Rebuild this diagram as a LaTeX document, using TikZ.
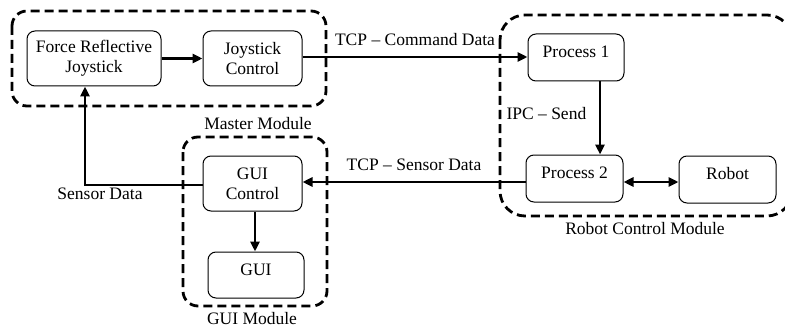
\documentclass[tikz,border=0pt]{standalone}
\usepackage{fontspec}
\setmainfont{Liberation Serif}
\usetikzlibrary{arrows.meta}
\usetikzlibrary{positioning}

\begin{document}
\begin{tikzpicture}[x=1pt, y=-1pt,
  every node/.style={font=\fontsize{17.5}{20}\selectfont},
  block/.style={draw, line width=1pt, rounded corners=8pt, align=center, inner sep=0pt},
  oneline/.style={block, text height=14pt, text depth=14pt},
  module/.style={line width=2.8pt, dash pattern=on 9pt off 5pt},
  link/.style={line width=2.8pt, -{Triangle[length=10pt, width=9pt]}},
  duallink/.style={line width=2.8pt, {Triangle[length=10pt, width=9pt]}-{Triangle[length=10pt, width=9pt]}}]
  \useasboundingbox (0,0) rectangle (785,329);
  \clip (0,0) rectangle (785,329);

  \draw[module, rounded corners=15pt] (12,11) rectangle (326,106);
  \draw[module, rounded corners=15pt] (183,137) rectangle (327,306);
  \draw[module, rounded corners=25pt] (500,15) rectangle (792,216);

  \node[block, minimum width=134pt, minimum height=55pt] (frj) at (94,58.5) {Force Reflective\\Joystick};
  \node[block, minimum width=99pt, minimum height=55pt] (jc) at (252.5,58.5) {Joystick\\Control};
  \node[oneline, minimum width=96pt, minimum height=47pt] (p1) at (576,57.5) {Process 1};
  \node[oneline, minimum width=97pt, minimum height=47pt] (p2) at (574.5,178.5) {Process 2};
  \node[oneline, minimum width=97pt, minimum height=47pt] (robot) at (727.5,179.5) {Robot};
  \node[block, minimum width=99pt, minimum height=55pt] (guictl) at (252.5,183.5) {GUI\\Control};
  \node[oneline, minimum width=96pt, minimum height=46pt] (gui) at (256,275) {GUI};

  \node (masterlbl) at (258,124) {Master Module};
  \node (guilbl) at (252,319) {GUI Module};
  \node (robotlbl) at (645,229) {Robot Control Module};
  \node (sensorlbl) at (100,194) {Sensor Data};

  \draw[link] (frj) -- (jc);
  \draw[link] ([yshift=1.5pt]jc.east) -- node[above=7pt] (cmdlbl) {TCP – Command Data} ([yshift=1.5pt]jc.east -| p1.west);
  \draw[link] ([xshift=24pt]p1.south) -- node[left=9pt, yshift=4.5pt] (ipclbl) {IPC – Send} ([xshift=24pt]p1.south |- p2.north);
  \draw[link] ([yshift=-3.5pt]p2.west) -- node[above=7pt] (sensorcmd) {TCP – Sensor Data} ([yshift=-3.5pt]p2.west -| guictl.east);
  \draw[duallink] ([yshift=-3.5pt]p2.east) -- ([yshift=-3.5pt]p2.east -| robot.west);
  \draw[link] ([xshift=2.5pt]guictl.south) -- ([xshift=2.5pt]guictl.south |- gui.north);
  \draw[link] ([yshift=-1.5pt]guictl.west) -| ([xshift=-9pt]frj.south);
\end{tikzpicture}
\end{document}
